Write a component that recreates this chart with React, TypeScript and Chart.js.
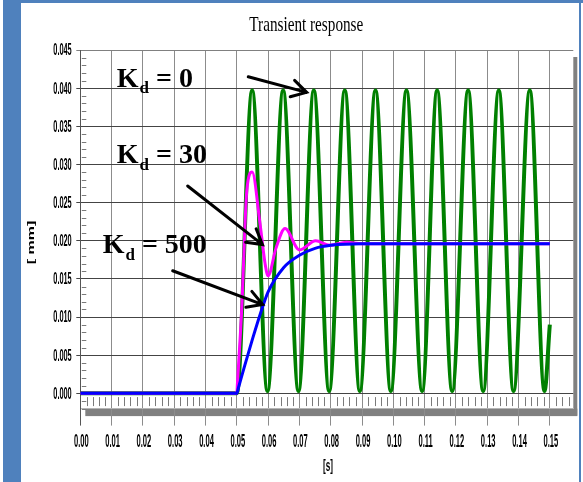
import React, { useEffect, useRef } from "react";
import { Chart, registerables } from "chart.js";

Chart.register(...registerables);

// ---------- data ----------
const X_TICKS = [0, 0.01, 0.02, 0.03, 0.04, 0.05, 0.06, 0.07, 0.08, 0.09, 0.1, 0.11, 0.12, 0.13, 0.14, 0.15];
const X_TICK_LABELS = ["0.00", "0.01", "0.02", "0.03", "0.04", "0.05", "0.06", "0.07", "0.08", "0.09", "0.10", "0.11", "0.12", "0.13", "0.14", "0.15"];
const Y_TICKS = [0, 0.005, 0.01, 0.015, 0.02, 0.025, 0.03, 0.035, 0.04, 0.045];
const Y_TICK_LABELS = ["0.000", "0.005", "0.010", "0.015", "0.020", "0.025", "0.030", "0.035", "0.040", "0.045"];

const TITLE = "Transient response";
const X_TITLE = "[s]";
const Y_TITLE = "[ mm]";

// Kd = 0 (green) – extrema
const T_KD0 = [0, 0.05, 0.0549, 0.0598, 0.0648, 0.0697, 0.0746, 0.0795, 0.0845, 0.0893, 0.0943, 0.0992, 0.1042, 0.1092, 0.114, 0.1188, 0.1239, 0.1287, 0.1337, 0.1384, 0.1436, 0.1483, 0.15];
const V_KD0 = [0, 0, 0.0397, 0.0003, 0.0397, 0.0003, 0.0397, 0.0003, 0.0397, 0.0003, 0.0397, 0.0003, 0.0397, 0.0003, 0.0397, 0.0003, 0.0397, 0.0003, 0.0397, 0.0003, 0.0397, 0.0003, 0.009];

// Kd = 30 (magenta)
const T_KD30 = [0, 0.05, 0.0502, 0.0516, 0.0532, 0.0549, 0.0574, 0.059, 0.06, 0.0625, 0.0654, 0.07, 0.0752, 0.0797, 0.085, 0.09, 0.15];
const V_KD30 = [0, 0, 0.0013, 0.0113, 0.0266, 0.029, 0.0223, 0.0171, 0.0154, 0.019, 0.0216, 0.0188, 0.02, 0.0194, 0.0198, 0.0196, 0.0196];

// Kd = 500 (blue)
const T_KD500 = [0, 0.05, 0.0505, 0.0525, 0.055, 0.0575, 0.06, 0.065, 0.07, 0.075, 0.08, 0.09, 0.15];
const V_KD500 = [0, 0, 0.0007, 0.0036, 0.0071, 0.0104, 0.0133, 0.0165, 0.0181, 0.019, 0.0194, 0.0196, 0.0196];

const SERIES_LABELS = ["Kd = 500", "Kd = 30", "Kd = 0"];

// annotations (data coordinates)
const NOTE_VALUES = ["500", "30", "0"];
const NOTE_X = [0.00715, 0.01163, 0.01163];
const NOTE_Y = [0.01835, 0.03014, 0.04018];
const ARROW_FROM_X = [0.02951, 0.0343, 0.05366];
const ARROW_FROM_Y = [0.01607, 0.02717, 0.04149];
const ARROW_TO_X = [0.05826, 0.0582, 0.07231];
const ARROW_TO_Y = [0.01164, 0.0195, 0.03945];

const X_MIN = 0;
const X_MAX = 0.1575;
const Y_MIN = -0.002;
const Y_MAX = 0.045;

const zip = (t: number[], v: number[]) => t.map((x, i) => ({ x, y: v[i] }));

function squishText(ctx: CanvasRenderingContext2D, text: string, x: number, y: number, font: string, targetW: number, ref: string, align: CanvasTextAlign) {
  ctx.save();
  ctx.font = font;
  const w = ctx.measureText(ref).width || 1;
  const s = targetW / w;
  ctx.translate(x, y);
  ctx.scale(s, 1);
  ctx.textAlign = align;
  ctx.fillText(text, 0, 0);
  ctx.restore();
}

const decor = {
  id: "decor",
  beforeDraw(chart: any) {
    const { ctx, chartArea: a } = chart;
    ctx.save();
    ctx.fillStyle = "#808080";
    ctx.fillRect(a.right, a.top + 7, 4, a.bottom - a.top);
    ctx.fillRect(a.left + 5, a.bottom, a.right - a.left - 1, 7.5);
    ctx.restore();
  },
  beforeDatasetsDraw(chart: any) {
    const { ctx, chartArea: a, scales } = chart;
    const xs = scales.x, ys = scales.y;
    ctx.save();
    ctx.strokeStyle = "#7a7a7a";
    ctx.lineWidth = 1;
    ctx.beginPath();
    for (let i = 1; i < 79; i++) {
      if (i % 5 === 0) continue;
      const px = Math.round(xs.getPixelForValue(i * 0.002)) + 0.5;
      ctx.moveTo(px, a.bottom - 11.5);
      ctx.lineTo(px, a.bottom - 2.5);
    }
    for (let i = -2; i <= 45; i++) {
      if (i % 5 === 0) continue;
      const py = Math.round(ys.getPixelForValue(i * 0.001)) + 0.5;
      ctx.moveTo(a.left + 1.5, py);
      ctx.lineTo(a.left + 6, py);
    }
    ctx.stroke();
    ctx.restore();
  },
  afterDraw(chart: any) {
    const { ctx, chartArea: a, scales } = chart;
    const xs = scales.x, ys = scales.y;
    ctx.save();
    ctx.fillStyle = "#000";
    ctx.textBaseline = "middle";
    const yFont = "bold 16px 'Liberation Sans Narrow', 'Liberation Sans', Arial, sans-serif";
    Y_TICKS.forEach((v, i) => {
      squishText(ctx, Y_TICK_LABELS[i], a.left - 8.6, ys.getPixelForValue(v) + 1, yFont, 18.4, "0.000", "right");
    });
    const xFont = "bold 18px 'Liberation Sans Narrow', 'Liberation Sans', Arial, sans-serif";
    X_TICKS.forEach((v, i) => {
      squishText(ctx, X_TICK_LABELS[i], xs.getPixelForValue(v) + 1, a.bottom + 33, xFont, 14.7, "0.00", "center");
    });
    // title
    ctx.textBaseline = "alphabetic";
    squishText(ctx, TITLE, 306.3, 30.7, "22px 'Liberation Serif', 'Times New Roman', serif", 114, TITLE, "center");
    // x title
    ctx.textBaseline = "middle";
    squishText(ctx, X_TITLE, 328, 466, "bold 17px 'Liberation Sans', Arial, sans-serif", 10, X_TITLE, "center");
    // y title rotated
    ctx.save();
    ctx.font = "bold 16px 'Liberation Sans', Arial, sans-serif";
    ctx.translate(31.7, 242.5);
    ctx.scale(0.58, 1);
    ctx.rotate(-Math.PI / 2);
    ctx.textAlign = "center";
    ctx.fillText(Y_TITLE, 0, 0);
    ctx.restore();

    // arrows
    ctx.strokeStyle = "#000";
    ctx.lineWidth = 3;
    ctx.lineCap = "round";
    for (let i = 0; i < ARROW_TO_X.length; i++) {
      const x1 = xs.getPixelForValue(ARROW_FROM_X[i]);
      const y1 = ys.getPixelForValue(ARROW_FROM_Y[i]);
      const x2 = xs.getPixelForValue(ARROW_TO_X[i]);
      const y2 = ys.getPixelForValue(ARROW_TO_Y[i]);
      const ang = Math.atan2(y1 - y2, x1 - x2);
      const L = 17, sp = Math.PI / 6;
      ctx.beginPath();
      ctx.moveTo(x1, y1);
      ctx.lineTo(x2, y2);
      ctx.moveTo(x2 + L * Math.cos(ang + sp), y2 + L * Math.sin(ang + sp));
      ctx.lineTo(x2, y2);
      ctx.lineTo(x2 + L * Math.cos(ang - sp), y2 + L * Math.sin(ang - sp));
      ctx.stroke();
    }
    // labels K_d = ...
    ctx.textBaseline = "alphabetic";
    ctx.textAlign = "left";
    const big = "bold 28px 'Liberation Serif', 'Times New Roman', serif";
    const small = "bold 17px 'Liberation Serif', 'Times New Roman', serif";
    for (let i = 0; i < NOTE_VALUES.length; i++) {
      let x = xs.getPixelForValue(NOTE_X[i]);
      const y = ys.getPixelForValue(NOTE_Y[i]);
      ctx.font = big;
      ctx.fillText("K", x, y);
      x += ctx.measureText("K").width + 1;
      ctx.font = small;
      ctx.fillText("d", x, y + 6.6);
      x += ctx.measureText("d").width;
      ctx.font = big;
      ctx.fillText(" = " + NOTE_VALUES[i], x, y);
    }
    ctx.restore();
  },
};

export default function App() {
  const ref = useRef<HTMLCanvasElement | null>(null);
  useEffect(() => {
    if (!ref.current) return;
    const chart = new Chart(ref.current, {
      type: "line",
      data: {
        datasets: [
          { label: SERIES_LABELS[0], data: zip(T_KD500, V_KD500), borderColor: "#0000ff", borderWidth: 3 },
          { label: SERIES_LABELS[1], data: zip(T_KD30, V_KD30), borderColor: "#ff00ff", borderWidth: 3 },
          { label: SERIES_LABELS[2], data: zip(T_KD0, V_KD0), borderColor: "#008000", borderWidth: 4 },
        ].map((d) => ({ ...d, pointRadius: 0, fill: false, cubicInterpolationMode: "monotone" as const, borderJoinStyle: "round" as const, borderCapStyle: "butt" as const })),
      },
      options: {
        responsive: false,
        animation: false,
        devicePixelRatio: 1,
        layout: { padding: { top: 50, right: 9.7, left: 0, bottom: 0 } },
        plugins: { legend: { display: false }, title: { display: false }, tooltip: { enabled: false } },
        scales: {
          x: {
            type: "linear",
            min: X_MIN,
            max: X_MAX,
            afterBuildTicks: (s: any) => { s.ticks = X_TICKS.map((v) => ({ value: v })); },
            afterFit: (s: any) => { s.height = 73.4; },
            ticks: { display: false },
            grid: { color: (c: any) => (c.tick && c.tick.value === 0 ? "#555" : "#8c8c8c"), lineWidth: 1, tickLength: 17, drawTicks: true },
            border: { display: true, color: "#b5b5b5", width: 1 },
          },
          y: {
            type: "linear",
            min: Y_MIN,
            max: Y_MAX,
            afterBuildTicks: (s: any) => { s.ticks = Y_TICKS.map((v) => ({ value: v })); },
            afterFit: (s: any) => { s.width = 80.3; },
            ticks: { display: false },
            grid: { color: (c: any) => (c.tick && c.tick.value === 0.045 ? "#808080" : "#444"), lineWidth: 1, tickLength: 4, drawTicks: true },
            border: { display: true, color: "#555", width: 1 },
          },
        },
      },
      plugins: [decor],
    });
    return () => chart.destroy();
  }, []);
  return (
    <div style={{ position: "fixed", left: 0, top: 0, width: 583, height: 482, background: "#fff", overflow: "hidden" }}>
      <canvas ref={ref} width={583} height={482} style={{ position: "absolute", left: 0, top: 0, width: 583, height: 482 }} />
      <div style={{ position: "absolute", left: 3, top: 0, width: 18, height: 482, background: "#4f81bd" }} />
      <div style={{ position: "absolute", left: 3, top: 0, width: 580, height: 3, background: "#4f81bd" }} />
      <div style={{ position: "absolute", left: 579, top: 0, width: 2, height: 482, background: "#4f81bd" }} />
    </div>
  );
}
